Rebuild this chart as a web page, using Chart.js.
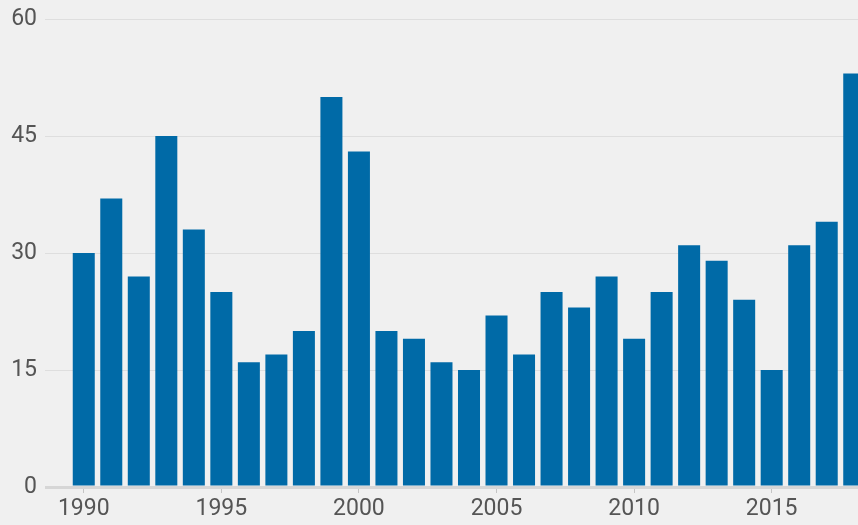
<!DOCTYPE html>
<html lang="en">
<head>
    <meta charset="UTF-8">
    <title>Yearly bars 1990-2018</title>
    <script src="https://cdn.jsdelivr.net/npm/chart.js"></script>
    <style>
        * { margin: 0; padding: 0; box-sizing: border-box; }
        html, body {
            width: 858px;
            height: 525px;
            overflow: hidden;
            background: #f0f0f0;
        }
        #chart { display: block; }
    </style>
</head>
<body>
    <canvas id="chart" width="868" height="525"></canvas>

    <script>
        // data
        const years = [];
        for (let y = 1990; y <= 2018; y++) years.push(String(y));
        const values = [30, 37, 27, 45, 33, 25, 16, 17, 20, 50,
                        43, 20, 19, 16, 15, 22, 17, 25, 23, 27,
                        19, 25, 31, 29, 24, 15, 31, 34, 53];
        const yTicks = [0, 15, 30, 45, 60];

        const labelFont = { family: 'Roboto', size: 23 };
        const labelColor = '#555555';

        const ctx = document.getElementById('chart').getContext('2d');
        new Chart(ctx, {
            type: 'bar',
            data: {
                labels: years,
                datasets: [{
                    data: values,
                    backgroundColor: '#006aa7',
                    borderWidth: 0,
                    barPercentage: 0.8,
                    categoryPercentage: 1.0
                }]
            },
            options: {
                responsive: false,
                animation: false,
                layout: { padding: { top: 19, right: 0, left: 0, bottom: 0 } },
                plugins: {
                    legend: { display: false },
                    tooltip: { enabled: false }
                },
                scales: {
                    x: {
                        afterFit: (scale) => {
                            scale.height = 38;
                            scale.paddingLeft = 0;
                            scale.paddingRight = 0;
                        },
                        border: { display: false },
                        grid: {
                            offset: false,
                            drawOnChartArea: false,
                            drawTicks: true,
                            tickLength: 6,
                            color: (c) => (c.index % 5 === 0 ? '#c4c4c4' : 'rgba(0,0,0,0)')
                        },
                        ticks: {
                            autoSkip: false,
                            maxRotation: 0,
                            padding: 2,
                            color: labelColor,
                            font: labelFont,
                            callback: function (val, i) {
                                return i % 5 === 0 ? this.getLabelForValue(val) : '';
                            }
                        }
                    },
                    y: {
                        min: 0,
                        max: 60,
                        afterFit: (scale) => {
                            scale.width = 70;
                            scale.paddingTop = 0;
                            scale.paddingBottom = 0;
                        },
                        afterBuildTicks: (scale) => {
                            scale.ticks = yTicks.map(v => ({ value: v }));
                        },
                        border: { display: false },
                        grid: {
                            tickLength: 25,
                            color: (c) => (c.tick && c.tick.value === 0 ? '#d6d6d6' : '#dedede'),
                            lineWidth: (c) => (c.tick && c.tick.value === 0 ? 3 : 1)
                        },
                        ticks: {
                            padding: 8,
                            color: labelColor,
                            font: labelFont
                        }
                    }
                }
            }
        });
    </script>
</body>
</html>
